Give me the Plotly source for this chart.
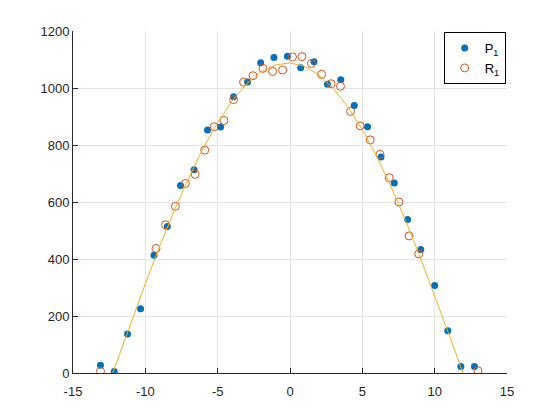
import plotly.graph_objects as go

# P1 measured points (filled blue)
p1_x = [-13.1, -12.15, -11.23, -10.33, -9.40, -8.48, -7.57, -6.63, -5.70, -4.80,
        -3.90, -2.93, -2.03, -1.11, -0.18, 0.74, 1.66, 2.59, 3.51, 4.44,
        5.36, 6.29, 7.21, 8.13, 9.04, 10.0, 10.91, 11.81, 12.75]
p1_y = [27, 5, 137, 225, 413, 514, 658, 713, 853, 863,
        969, 1021, 1089, 1107, 1111, 1071, 1092, 1013, 1029, 939,
        864, 758, 667, 539, 433, 307, 148, 23, 23]

# R1 points (hollow orange)
r1_x = [-13.1, -9.26, -8.61, -7.92, -7.23, -6.56, -5.89, -5.24, -4.57, -3.90,
        -3.21, -2.56, -1.87, -1.20, -0.51, 0.17, 0.83, 1.48, 2.18, 2.84,
        3.49, 4.19, 4.85, 5.54, 6.22, 6.86, 7.53, 8.23, 8.90, 12.99]
r1_y = [6, 437, 520, 585, 665, 697, 782, 864, 886, 959,
        1021, 1043, 1069, 1058, 1063, 1109, 1110, 1086, 1048, 1015,
        1006, 918, 867, 818, 767, 685, 600, 481, 418, 8]

# fitted curve (yellow)
fit_x = [-12.25, -12, -11, -10, -9, -8, -7, -6, -5, -4, -3, -2, -1, 0,
         1, 2, 3, 4, 5, 6, 7, 8, 9, 10, 11, 11.95]
fit_y = [0, 35, 176, 313, 446, 570, 685, 789, 879, 955, 1014, 1057, 1081, 1088,
         1076, 1046, 998, 934, 854, 759, 652, 534, 406, 272, 134, 0]

x_ticks = [-15, -10, -5, 0, 5, 10, 15]
x_labels = ["-15", "-10", "-5", "0", "5", "10", "15"]
y_ticks = [0, 200, 400, 600, 800, 1000, 1200]

AX = "#262626"

fig = go.Figure()
fig.add_trace(go.Scatter(
    x=p1_x, y=p1_y, mode="markers", name="P<sub>1</sub>",
    marker=dict(color="#0072BD", size=7, line=dict(width=0)),
))
fig.add_trace(go.Scatter(
    x=r1_x, y=r1_y, mode="markers", name="R<sub>1</sub>",
    marker=dict(symbol="circle-open", color="#D95319", size=8, line=dict(width=1)),
))
fig.add_trace(go.Scatter(
    x=fit_x, y=fit_y, mode="lines", showlegend=False,
    line=dict(color="#EDB120", width=1),
))

axis_common = dict(
    showgrid=True, gridcolor="#E3E3E3", gridwidth=1, zeroline=False,
    showline=True, linecolor=AX, linewidth=1,
    ticks="inside", ticklen=5, tickcolor=AX,
    tickfont=dict(family="Liberation Sans, Arial, sans-serif", size=13, color=AX),
)

# page body adds an 8px margin, so the figure is a bit smaller than the window
fig.update_layout(
    width=552, height=412,
    margin=dict(l=65, r=53, t=23, b=47),
    plot_bgcolor="white", paper_bgcolor="white",
    font=dict(family="Liberation Sans, Arial, sans-serif", size=13, color=AX),
    xaxis=dict(range=[-15, 15], tickvals=x_ticks, ticktext=x_labels,
               ticklabelstandoff=6, **axis_common),
    yaxis=dict(range=[0, 1200], tickvals=y_ticks, **axis_common),
    legend=dict(
        x=0.997, y=0.997, xanchor="right", yanchor="top",
        bgcolor="white", bordercolor="#000000", borderwidth=1,
        font=dict(size=13, color="#000000"),
        tracegroupgap=0,
    ),
)

fig.write_html("out.html")
